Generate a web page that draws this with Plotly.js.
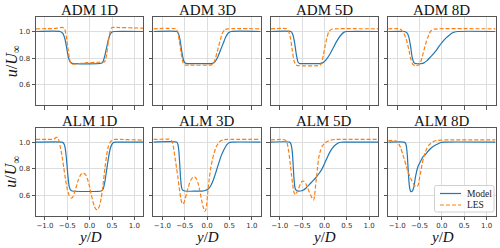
<!DOCTYPE html>
<html><head><meta charset="utf-8">
<script src="https://cdn.plot.ly/plotly-3.0.1.min.js"></script>
<style>html,body{margin:0;padding:0;background:#fff}#c{width:500px;height:248px}</style>
</head><body><div id="c"></div>
<script>
const titles = ["ADM 1D","ADM 3D","ADM 5D","ADM 8D","ALM 1D","ALM 3D","ALM 5D","ALM 8D"];
const seriesNames = ["Model", "LES"];
const xTicks = [-1, -0.5, 0, 0.5, 1];
const xTickText = ["\u22121.0","\u22120.5","0.0","0.5","1.0"];
const yTicks = [0.6, 0.8, 1.0];
const yTickText = ["0.6","0.8","1.0"];

// ADM 1D
const adm1ModelX = [-1.2,-0.66,-0.6,-0.55,-0.51,-0.47,-0.43,-0.39,0.26,0.3,0.34,0.38,0.42,0.46,0.5,0.55,1.2];
const adm1ModelY = [1.0,1.0,0.985,0.94,0.87,0.8,0.77,0.762,0.762,0.775,0.82,0.88,0.94,0.98,0.996,1.0,1.0];
const adm1LesX = [-1.2,-0.8,-0.6,-0.56,-0.52,-0.48,-0.44,-0.4,-0.3,-0.1,0.2,0.34,0.38,0.42,0.46,0.5,0.6,1.2];
const adm1LesY = [1.02,1.022,1.03,1.02,0.96,0.86,0.78,0.757,0.757,0.765,0.77,0.775,0.83,0.93,1.0,1.03,1.03,1.025];
// ADM 3D
const adm3ModelX = [-1.2,-0.68,-0.64,-0.6,-0.56,-0.52,-0.48,-0.44,0.12,0.18,0.24,0.3,0.36,0.42,0.48,0.54,1.2];
const adm3ModelY = [1.0,1.0,0.985,0.93,0.84,0.78,0.762,0.76,0.762,0.775,0.81,0.86,0.91,0.96,0.99,1.0,1.0];
const adm3LesX = [-1.2,-0.7,-0.66,-0.62,-0.58,-0.54,-0.5,-0.4,0.1,0.14,0.18,0.22,0.26,0.3,0.34,0.4,0.48,1.2];
const adm3LesY = [1.02,1.02,1.0,0.93,0.84,0.77,0.75,0.748,0.75,0.76,0.79,0.84,0.89,0.94,0.985,1.015,1.02,1.02];
// ADM 5D
const adm5ModelX = [-1.2,-0.75,-0.71,-0.67,-0.63,-0.59,-0.55,-0.5,-0.1,-0.04,0.04,0.12,0.2,0.28,0.36,0.44,0.5,1.2];
const adm5ModelY = [1.0,1.0,0.98,0.92,0.83,0.77,0.76,0.76,0.76,0.765,0.79,0.83,0.88,0.93,0.97,0.995,1.0,1.0];
const adm5LesX = [-1.2,-0.84,-0.8,-0.76,-0.72,-0.68,-0.64,-0.6,-0.1,-0.06,-0.02,0.02,0.06,0.1,0.16,0.24,1.2];
const adm5LesY = [1.02,1.02,1.0,0.95,0.86,0.78,0.75,0.745,0.747,0.77,0.83,0.9,0.96,1.0,1.017,1.02,1.02];
// ADM 8D
const adm8ModelX = [-1.2,-0.84,-0.78,-0.74,-0.7,-0.66,-0.62,-0.58,-0.46,-0.4,-0.34,-0.28,-0.21,-0.13,-0.06,0.01,0.09,0.16,0.24,0.35,1.2];
const adm8ModelY = [1.0,1.0,0.99,0.96,0.89,0.8,0.765,0.76,0.76,0.765,0.78,0.8,0.825,0.857,0.89,0.92,0.95,0.97,0.99,1.0,1.0];
const adm8LesX = [-1.2,-0.95,-0.9,-0.85,-0.81,-0.77,-0.73,-0.69,-0.65,-0.6,-0.53,-0.48,-0.44,-0.4,-0.36,-0.32,-0.28,-0.24,-0.18,-0.1,1.2];
const adm8LesY = [1.02,1.02,1.01,0.985,0.955,0.91,0.85,0.79,0.755,0.745,0.747,0.765,0.81,0.86,0.91,0.95,0.985,1.005,1.017,1.02,1.02];
// ALM 1D
const alm1ModelX = [-1.2,-0.62,-0.58,-0.55,-0.52,-0.49,-0.46,-0.43,-0.39,0.26,0.3,0.34,0.38,0.42,0.46,0.5,0.54,0.58,1.2];
const alm1ModelY = [1.0,1.0,0.99,0.96,0.88,0.76,0.67,0.64,0.632,0.632,0.645,0.7,0.79,0.88,0.95,0.985,0.998,1.0,1.0];
const alm1LesX = [-1.2,-0.9,-0.8,-0.75,-0.72,-0.69,-0.66,-0.62,-0.58,-0.54,-0.5,-0.46,-0.42,-0.38,-0.32,-0.26,-0.2,-0.14,-0.08,-0.02,0.04,0.1,0.14,0.18,0.22,0.26,0.3,0.34,0.38,0.42,0.46,0.5,0.56,0.7,1.2];
const alm1LesY = [1.02,1.02,1.022,1.035,1.035,1.015,0.97,0.9,0.81,0.72,0.645,0.6,0.58,0.585,0.64,0.71,0.755,0.768,0.75,0.69,0.6,0.52,0.495,0.492,0.52,0.58,0.68,0.8,0.9,0.97,1.0,1.012,1.02,1.02,1.015];
// ALM 3D
const alm3ModelX = [-1.2,-0.68,-0.65,-0.63,-0.61,-0.59,-0.57,-0.55,-0.5,-0.1,-0.04,0.02,0.08,0.14,0.2,0.26,0.32,0.38,0.44,0.5,0.56,1.2];
const alm3ModelY = [1.0,1.0,0.98,0.93,0.83,0.72,0.66,0.64,0.632,0.632,0.636,0.645,0.67,0.715,0.775,0.84,0.9,0.945,0.98,0.997,1.0,1.0];
const alm3LesX = [-1.2,-0.85,-0.8,-0.77,-0.74,-0.71,-0.68,-0.65,-0.62,-0.59,-0.56,-0.53,-0.5,-0.46,-0.42,-0.37,-0.32,-0.28,-0.24,-0.2,-0.16,-0.12,-0.08,-0.05,-0.02,0.01,0.04,0.08,0.12,0.16,0.2,0.25,0.3,0.36,0.45,1.2];
const alm3LesY = [1.02,1.022,1.015,0.99,0.94,0.87,0.8,0.73,0.65,0.58,0.54,0.535,0.56,0.61,0.66,0.71,0.735,0.738,0.725,0.69,0.63,0.56,0.505,0.478,0.5,0.6,0.7,0.8,0.87,0.92,0.96,0.99,1.008,1.017,1.02,1.02];
// ALM 5D
const alm5ModelX = [-1.2,-0.78,-0.75,-0.72,-0.7,-0.68,-0.66,-0.64,-0.6,-0.54,-0.48,-0.41,-0.34,-0.27,-0.2,-0.13,-0.06,0.01,0.07,0.13,0.19,0.25,0.31,0.37,0.43,1.2];
const alm5ModelY = [1.0,1.0,0.985,0.93,0.83,0.72,0.66,0.64,0.632,0.632,0.638,0.655,0.68,0.705,0.73,0.76,0.795,0.845,0.89,0.93,0.96,0.98,0.993,0.999,1.0,1.0];
const alm5LesX = [-1.2,-0.95,-0.88,-0.84,-0.8,-0.77,-0.74,-0.71,-0.68,-0.65,-0.62,-0.58,-0.54,-0.5,-0.46,-0.42,-0.38,-0.34,-0.3,-0.27,-0.24,-0.22,-0.19,-0.16,-0.13,-0.09,-0.05,0.0,0.06,0.14,0.25,1.2];
const alm5LesY = [1.017,1.02,1.015,1.0,0.93,0.85,0.76,0.68,0.62,0.605,0.62,0.65,0.685,0.705,0.705,0.69,0.66,0.625,0.595,0.575,0.565,0.6,0.7,0.79,0.88,0.935,0.97,0.99,1.005,1.015,1.02,1.02];
// ALM 8D
const alm8ModelX = [-1.2,-0.85,-0.81,-0.79,-0.77,-0.755,-0.74,-0.72,-0.7,-0.68,-0.65,-0.62,-0.6,-0.57,-0.53,-0.47,-0.42,-0.36,-0.3,-0.25,-0.19,-0.13,-0.07,-0.02,0.04,1.2];
const alm8ModelY = [1.0,1.0,0.99,0.96,0.89,0.8,0.72,0.655,0.63,0.627,0.637,0.67,0.72,0.77,0.82,0.86,0.89,0.91,0.935,0.952,0.968,0.98,0.99,0.997,1.0,1.0];
const alm8LesX = [-1.2,-1.05,-1.0,-0.96,-0.92,-0.88,-0.84,-0.8,-0.76,-0.72,-0.68,-0.64,-0.6,-0.56,-0.53,-0.5,-0.47,-0.44,-0.41,-0.37,-0.33,-0.29,-0.25,-0.2,-0.12,0.0,0.2,1.2];
const alm8LesY = [1.012,1.012,1.005,0.985,0.955,0.915,0.87,0.825,0.78,0.745,0.715,0.69,0.67,0.665,0.675,0.73,0.78,0.84,0.88,0.925,0.955,0.977,0.99,1.002,1.012,1.015,1.017,1.017];

const modelX = [adm1ModelX, adm3ModelX, adm5ModelX, adm8ModelX, alm1ModelX, alm3ModelX, alm5ModelX, alm8ModelX];
const modelY = [adm1ModelY, adm3ModelY, adm5ModelY, adm8ModelY, alm1ModelY, alm3ModelY, alm5ModelY, alm8ModelY];
const lesX = [adm1LesX, adm3LesX, adm5LesX, adm8LesX, alm1LesX, alm3LesX, alm5LesX, alm8LesX];
const lesY = [adm1LesY, adm3LesY, adm5LesY, adm8LesY, alm1LesY, alm3LesY, alm5LesY, alm8LesY];

const W = 500, H = 248;
const colLeft = [36, 153.4, 270.8, 388.2];
const panelW = 107.3;
const rowTop = [17.3, 128];
const rowBot = [105.3, 215.5];
const serif = "Liberation Serif, DejaVu Serif, serif";
const blue = "#1f77b4", orange = "#ff7f0e";
const lesDash = "4px,2px";

const traces = [];
const layout = {
  width: W, height: H, margin: {l:0, r:0, t:0, b:0},
  paper_bgcolor: "#fff", plot_bgcolor: "#fff",
  showlegend: false,
  annotations: [], shapes: []
};

for (let i = 0; i < 8; i++) {
  const r = Math.floor(i / 4), c = i % 4;
  const n = i + 1;
  const xa = "x" + (n === 1 ? "" : n), ya = "y" + (n === 1 ? "" : n);
  traces.push({x: modelX[i], y: modelY[i], xaxis: xa, yaxis: ya, mode: "lines", name: seriesNames[0],
    line: {color: blue, width: 1.2, shape: "spline", smoothing: 0.5}, hoverinfo: "skip"});
  traces.push({x: lesX[i], y: lesY[i], xaxis: xa, yaxis: ya, mode: "lines", name: seriesNames[1],
    line: {color: orange, width: 1.2, dash: lesDash, shape: "spline", smoothing: 0.5}, hoverinfo: "skip"});
  const common = {showline: true, mirror: true, linecolor: "#555", linewidth: 1,
    showgrid: true, gridcolor: "#dedede", gridwidth: 1, zeroline: false,
    ticks: "outside", ticklen: 3.5, tickwidth: 1, tickcolor: "#555",
    tickfont: {family: "DejaVu Sans", size: 7, color: "#333"}, fixedrange: true};
  layout["xaxis" + (n === 1 ? "" : n)] = Object.assign({}, common, {
    domain: [colLeft[c]/W, (colLeft[c]+panelW)/W], anchor: ya, range: [-1.2, 1.2],
    tickmode: "array", tickvals: xTicks, ticktext: xTickText, showticklabels: r === 1});
  layout["yaxis" + (n === 1 ? "" : n)] = Object.assign({}, common, {
    domain: [(H-rowBot[r])/H, (H-rowTop[r])/H], anchor: xa, range: [0.448, 1.106],
    tickmode: "array", tickvals: yTicks, ticktext: yTickText, showticklabels: c === 0});
  layout.annotations.push({text: titles[i], xref: "paper", yref: "paper",
    x: (colLeft[c] + panelW/2)/W, y: (H - (rowTop[r] - 7))/H, xanchor: "center", yanchor: "middle",
    showarrow: false, font: {family: serif, size: 15, color: "#111"}});
  if (c === 0) {
    layout.annotations.push({text: "<i>u</i>/<i>U</i><sub>\u221e</sub>", xref: "paper", yref: "paper",
      x: 12/W, y: (H - (rowTop[r]+rowBot[r])/2)/H, xanchor: "center", yanchor: "middle",
      textangle: -90, showarrow: false, font: {family: serif, size: 16, color: "#111"}});
  }
  if (r === 1) {
    layout.annotations.push({text: "<i>y</i>/<i>D</i>", xref: "paper", yref: "paper",
      x: (colLeft[c] + panelW/2)/W, y: (H - 237)/H, xanchor: "center", yanchor: "middle",
      showarrow: false, font: {family: serif, size: 15, color: "#111"}});
  }
}

// legend (matplotlib-style, inside the last panel, lower right)
const px = v => v / W, py = v => (H - v) / H;
const lg = {x0: 434.5, x1: 494, y0: 185.5, y1: 212, rad: 2};
layout.shapes.push({type: "path", xref: "paper", yref: "paper",
  path: `M ${px(lg.x0+lg.rad)},${py(lg.y0)} L ${px(lg.x1-lg.rad)},${py(lg.y0)} Q ${px(lg.x1)},${py(lg.y0)} ${px(lg.x1)},${py(lg.y0+lg.rad)} L ${px(lg.x1)},${py(lg.y1-lg.rad)} Q ${px(lg.x1)},${py(lg.y1)} ${px(lg.x1-lg.rad)},${py(lg.y1)} L ${px(lg.x0+lg.rad)},${py(lg.y1)} Q ${px(lg.x0)},${py(lg.y1)} ${px(lg.x0)},${py(lg.y1-lg.rad)} L ${px(lg.x0)},${py(lg.y0+lg.rad)} Q ${px(lg.x0)},${py(lg.y0)} ${px(lg.x0+lg.rad)},${py(lg.y0)} Z`,
  fillcolor: "rgba(255,255,255,0.85)", line: {color: "#d0d0d0", width: 1}, layer: "above"});
const legendRows = [{y: 193.5, color: blue, dash: "solid"}, {y: 205, color: orange, dash: lesDash}];
legendRows.forEach((row, k) => {
  layout.shapes.push({type: "line", xref: "paper", yref: "paper",
    x0: px(440), x1: px(461), y0: py(row.y), y1: py(row.y),
    line: {color: row.color, width: 1.2, dash: row.dash}, layer: "above"});
  layout.annotations.push({text: seriesNames[k], xref: "paper", yref: "paper",
    x: px(465), y: py(row.y), xanchor: "left", yanchor: "middle", showarrow: false,
    font: {family: serif, size: 9.5, color: "#222"}});
});

Plotly.newPlot("c", traces, layout, {staticPlot: true, displayModeBar: false});
</script>
</body></html>
